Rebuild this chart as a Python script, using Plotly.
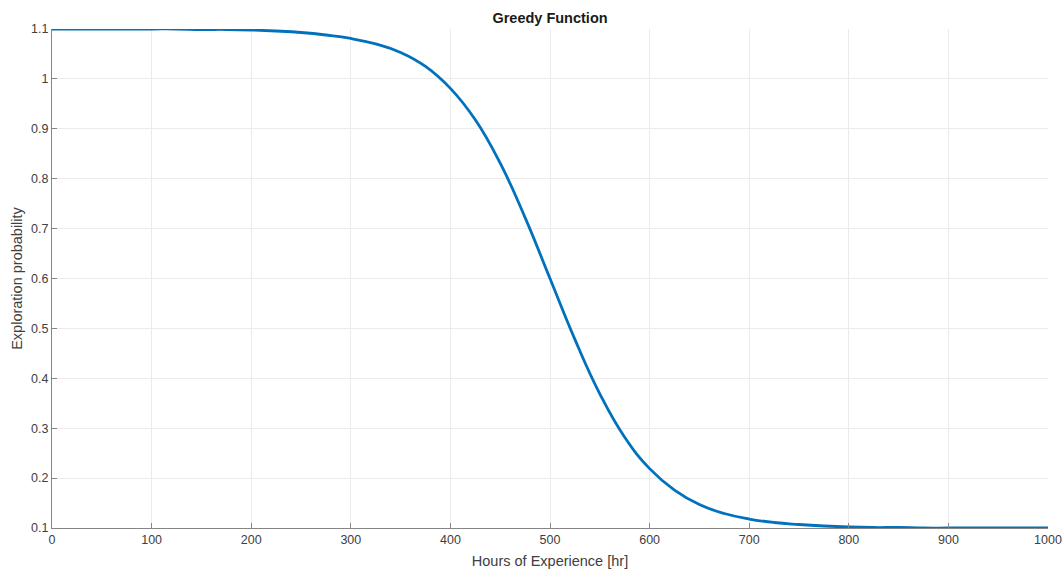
import plotly.graph_objects as go

hours = [0, 25, 50, 75, 100, 125, 150, 175, 200, 225, 250, 275, 300, 325, 350, 375,
         400, 425, 450, 475, 500, 525, 550, 575, 600, 625, 650, 675, 700, 725, 750,
         775, 800, 825, 850, 875, 900, 925, 950, 975, 1000]
prob = [1.100, 1.100, 1.100, 1.100, 1.100, 1.100, 1.099, 1.099, 1.098, 1.096, 1.093,
        1.088, 1.081, 1.070, 1.053, 1.025, 0.981, 0.918, 0.831, 0.722, 0.600, 0.478,
        0.369, 0.282, 0.219, 0.176, 0.147, 0.129, 0.118, 0.111, 0.107, 0.104, 0.102,
        0.101, 0.101, 0.100, 0.100, 0.100, 0.100, 0.100, 0.100]

x_ticks = [0, 100, 200, 300, 400, 500, 600, 700, 800, 900, 1000]
y_ticks = [0.1, 0.2, 0.3, 0.4, 0.5, 0.6, 0.7, 0.8, 0.9, 1.0, 1.1]
y_labels = ["0.1", "0.2", "0.3", "0.4", "0.5", "0.6", "0.7", "0.8", "0.9", "1", "1.1"]

fig = go.Figure()
fig.add_trace(go.Scatter(x=hours, y=prob, mode="lines",
                         line=dict(color="#0072BD", width=2.8, shape="spline", smoothing=1.3),
                         hoverinfo="x+y", showlegend=False, cliponaxis=False))

font = "Liberation Sans, Arial, sans-serif"
axis_common = dict(showgrid=True, gridcolor="#ebebeb", gridwidth=1,
                   showline=True, linecolor="#858585", linewidth=1,
                   ticks="inside", ticklen=5, tickcolor="#858585",
                   tickfont=dict(family=font, size=12.5, color="#404040"),
                   zeroline=False, mirror=False, automargin=False)

fig.update_layout(
    width=1064, height=570,
    margin=dict(l=52, r=16, t=29, b=42, autoexpand=False),
    paper_bgcolor="white", plot_bgcolor="white",
    title=dict(text="<b>Greedy Function</b>", x=0.5, xanchor="center", xref="paper",
               y=1, yref="container", yanchor="top", pad=dict(t=13),
               font=dict(family=font, size=14.5, color="#1a1a1a")),
    xaxis=dict(range=[0, 1000], tickvals=x_ticks,
               title=dict(text="Hours of Experience [hr]", standoff=9,
                          font=dict(family=font, size=14.5, color="#404040")),
               **axis_common),
    yaxis=dict(range=[0.1, 1.1], tickvals=y_ticks, ticktext=y_labels,
               title=dict(text="Exploration probability", standoff=5,
                          font=dict(family=font, size=14.5, color="#404040")),
               **axis_common),
)

fig.write_html("out.html", config={"displayModeBar": False},
               post_script="document.body.style.margin='0';document.body.style.overflow='hidden';")
